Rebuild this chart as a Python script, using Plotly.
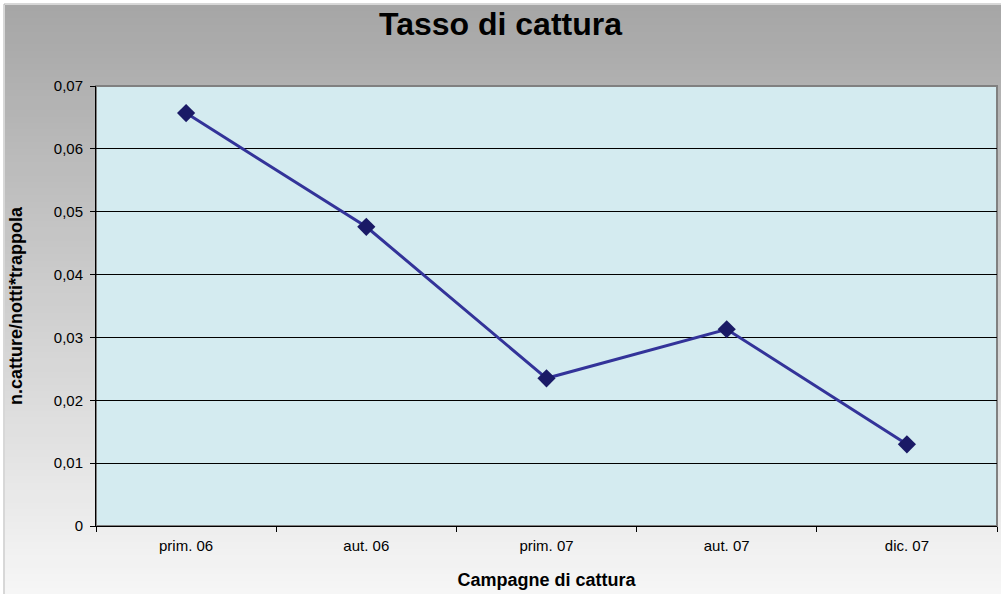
import plotly.graph_objects as go

# campaign labels and capture rate
campagne = ['prim. 06', 'aut. 06', 'prim. 07', 'aut. 07', 'dic. 07']
tasso = [0.0657, 0.0476, 0.0235, 0.0313, 0.0130]

y_tickvals = [0, 0.01, 0.02, 0.03, 0.04, 0.05, 0.06, 0.07]
y_ticktext = ['0', '0,01', '0,02', '0,03', '0,04', '0,05', '0,06', '0,07']

W, H = 1001, 594
L, R, T, B = 96, 4, 86, 68
pw, ph = W - L - R, H - T - B

fig = go.Figure()
fig.add_trace(go.Scatter(
    x=campagne, y=tasso,
    mode='lines+markers',
    line=dict(color='#333399', width=3),
    marker=dict(symbol='diamond', size=14, color='#1a1a66'),
    showlegend=False,
    cliponaxis=False,
))

# gray gradient background (Excel style), drawn as horizontal bands
def px_x(p):
    return (p - L) / pw

def px_y(p):
    return (H - B - p) / ph

shapes = []
n = 90
top_c, bot_c = 166, 246
left, top = 5, 5
for i in range(n):
    f = i / (n - 1)
    c = int(round(top_c + (bot_c - top_c) * f))
    ya = top + (H - top) * i / n
    yb = top + (H - top) * (i + 1) / n
    shapes.append(dict(type='rect', xref='paper', yref='paper',
                       x0=px_x(left), x1=px_x(W + 2),
                       y0=px_y(yb + 1), y1=px_y(ya),
                       fillcolor='rgb(%d,%d,%d)' % (c, c, c),
                       line=dict(width=0), layer='below'))
# outer chart border
shapes.append(dict(type='rect', xref='paper', yref='paper',
                   x0=px_x(left - 1), x1=px_x(W + 5),
                   y0=px_y(H + 5), y1=px_y(top - 1),
                   line=dict(color='#b0b0b0', width=1), layer='below'))
# plot area fill with gray border
shapes.append(dict(type='rect', xref='paper', yref='paper',
                   x0=0, x1=1, y0=0, y1=1,
                   fillcolor='#d4ebf0', line=dict(color='#808080', width=2),
                   layer='below'))

fig.update_layout(
    width=W, height=H,
    margin=dict(l=L, r=R, t=T, b=B, autoexpand=False),
    paper_bgcolor='white',
    plot_bgcolor='rgba(0,0,0,0)',
    shapes=shapes,
    font=dict(family='Liberation Sans, Arial, sans-serif', color='black'),
    title=dict(text='<b>Tasso di cattura</b>', x=0.5, xanchor='center',
               y=1 - 24 / H, yanchor='middle',
               font=dict(size=32, family='Liberation Sans, Arial')),
)

fig.update_xaxes(
    type='category',
    range=[-0.5, 4.5],
    automargin=False,
    showgrid=False,
    showline=True, linecolor='black', linewidth=1,
    ticks='outside', tickson='boundaries', ticklen=5, tickcolor='black',
    tickfont=dict(size=15), ticklabelstandoff=6,
    title=dict(text='<b>Campagne di cattura</b>', font=dict(size=18), standoff=20),
)
fig.update_yaxes(
    range=[0, 0.07],
    automargin=False,
    tickvals=y_tickvals, ticktext=y_ticktext,
    showgrid=True, gridcolor='black', gridwidth=1,
    showline=True, linecolor='black', linewidth=1,
    ticks='outside', ticklen=5, tickcolor='black',
    tickfont=dict(size=15), ticklabelstandoff=4,
    zeroline=False,
    title=dict(text='<b>n.catture/notti*trappola</b>', font=dict(size=18), standoff=26),
)

# page body has a default margin; remove it so the chart fills the window
fig.write_html('out.html', config={'displayModeBar': False},
               post_script="document.body.style.margin='0';")
